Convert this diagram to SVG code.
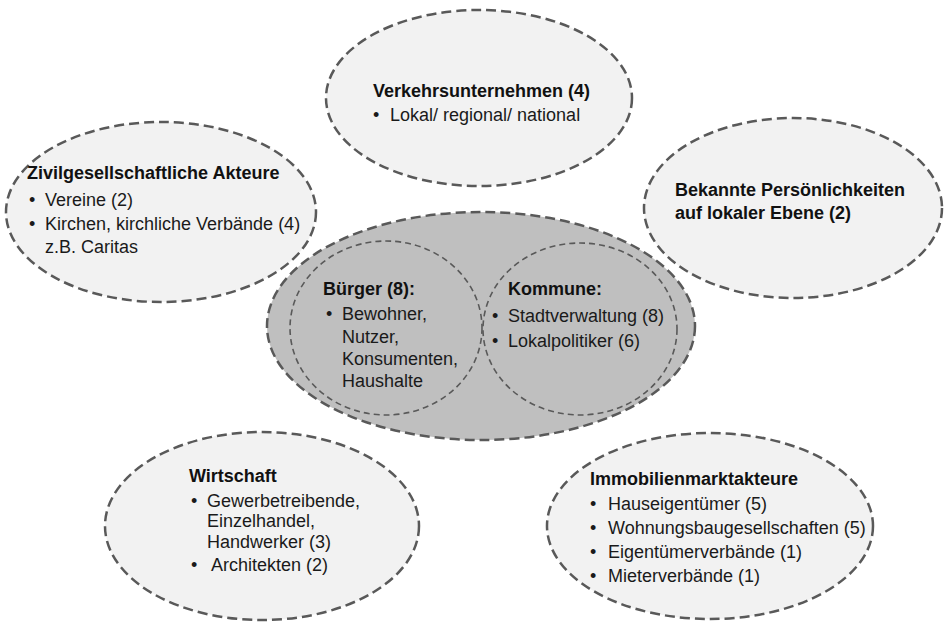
<svg xmlns="http://www.w3.org/2000/svg" width="944" height="622" viewBox="0 0 944 622">
<style>
.outer{fill:#f2f2f2;stroke:#595959;stroke-width:2.5;stroke-dasharray:10 5}
.core{fill:#bfbfbf;stroke:#595959;stroke-width:2.5;stroke-dasharray:10 5}
.inner{fill:none;stroke:#595959;stroke-width:1.6;stroke-dasharray:6 4}
text{font-family:"Liberation Sans",Arial,sans-serif;font-size:18px;fill:#1a1a1a}
.t{font-weight:bold;fill:#111}
</style>
<rect width="944" height="622" fill="#ffffff"/>
<g id="verkehr">
<ellipse class="outer" cx="479" cy="98" rx="153" ry="88"/>
<text class="t" x="373" y="97">Verkehrsunternehmen (4)</text>
<text x="373" y="121">•</text><text x="390" y="121">Lokal/ regional/ national</text>
</g>
<g id="zivil">
<ellipse class="outer" cx="161" cy="212" rx="155" ry="90"/>
<text class="t" x="27" y="179">Zivilgesellschaftliche Akteure</text>
<text x="29" y="206">•</text><text x="45" y="206">Vereine (2)</text>
<text x="29" y="230">•</text><text x="45" y="230">Kirchen, kirchliche Verbände (4)</text>
<text x="45" y="253">z.B. Caritas</text>
</g>
<g id="bekannt">
<ellipse class="outer" cx="793" cy="208" rx="149" ry="90"/>
<text class="t" x="675" y="196">Bekannte Persönlichkeiten</text>
<text class="t" x="675" y="219">auf lokaler Ebene (2)</text>
</g>
<g id="kern">
<ellipse class="core" cx="481" cy="326" rx="214" ry="114"/>
</g>
<g id="buerger">
<ellipse class="inner" cx="386" cy="328" rx="96" ry="87"/>
<text class="t" x="323" y="295">Bürger (8):</text>
<text x="326" y="320">•</text><text x="342" y="320">Bewohner,</text>
<text x="342" y="343">Nutzer,</text>
<text x="342" y="365">Konsumenten,</text>
<text x="342" y="387">Haushalte</text>
</g>
<g id="kommune">
<ellipse class="inner" cx="580" cy="329" rx="97" ry="86"/>
<text class="t" x="508" y="295">Kommune:</text>
<text x="492" y="322">•</text><text x="508" y="322">Stadtverwaltung (8)</text>
<text x="492" y="347">•</text><text x="508" y="347">Lokalpolitiker (6)</text>
</g>
<g id="wirtschaft">
<ellipse class="outer" cx="262" cy="526" rx="157" ry="94"/>
<text class="t" x="189" y="482">Wirtschaft</text>
<text x="191" y="507">•</text><text x="207" y="507">Gewerbetreibende,</text>
<text x="207" y="527">Einzelhandel,</text>
<text x="207" y="548">Handwerker (3)</text>
<text x="191" y="571">•</text><text x="211" y="571">Architekten (2)</text>
</g>
<g id="immobilien">
<ellipse class="outer" cx="710" cy="526" rx="163" ry="93"/>
<text class="t" x="590" y="485">Immobilienmarktakteure</text>
<text x="590" y="510">•</text><text x="608" y="510">Hauseigentümer (5)</text>
<text x="590" y="534">•</text><text x="608" y="534">Wohnungsbaugesellschaften (5)</text>
<text x="590" y="558">•</text><text x="608" y="558">Eigentümerverbände (1)</text>
<text x="590" y="582">•</text><text x="608" y="582">Mieterverbände (1)</text>
</g>
<g id="connectors"/>
</svg>
